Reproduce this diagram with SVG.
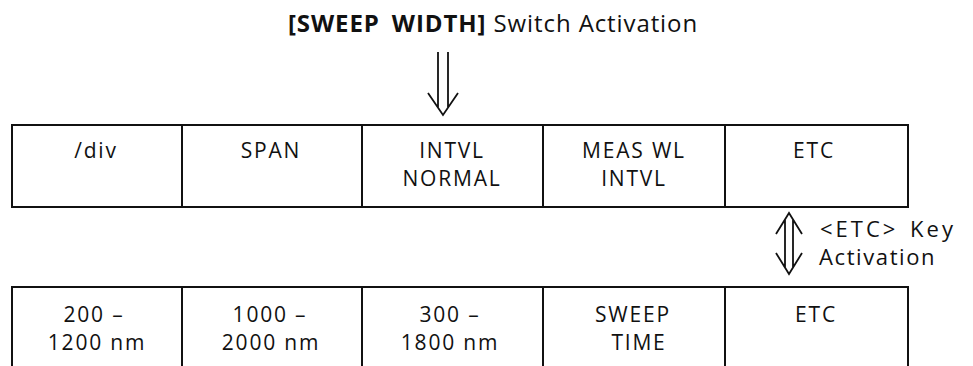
<svg xmlns="http://www.w3.org/2000/svg" width="973" height="366" viewBox="0 0 973 366">
<style>
text{font-family:"Open Sans","Noto Sans",sans-serif;fill:#111;}
.t{font-size:21px;letter-spacing:1.8px;text-anchor:middle;}
.lb{font-size:22px;letter-spacing:1.6px;}
.box{fill:none;stroke:#111;stroke-width:2;}
.ar{fill:none;stroke:#111;stroke-width:1.8;stroke-linejoin:miter;}
</style>
<rect width="973" height="366" fill="#fff"/>
<g id="title"><text x="288" y="32" style="font-size:24px;letter-spacing:0.9px"><tspan font-weight="bold" word-spacing="5">[SWEEP WIDTH]</tspan> Switch Activation</text></g>
<g id="connectors">
<path class="ar" d="M438,52 V107 M448,52 V107 M428,93 L443,115 L458,93"/>
<path class="ar" d="M785,220 V267 M793,220 V267 M776,234 L789,213 L802,234 M776,253 L789,274 L802,253"/>
</g>
<g id="label-etc"><text class="lb" x="820" y="237" style="letter-spacing:3px;word-spacing:3px">&lt;ETC&gt; Key</text><text class="lb" x="819" y="265">Activation</text></g>
<g id="row1">
<rect class="box" x="12" y="125" width="896" height="82"/>
<path class="box" d="M182,125V207M362,125V207M543,125V207M725,125V207"/>
<g id="n-div"><text class="t" x="96" y="158">/div</text></g>
<g id="n-span"><text class="t" x="271" y="158">SPAN</text></g>
<g id="n-intvl"><text class="t" x="452" y="158">INTVL</text><text class="t" x="452" y="186">NORMAL</text></g>
<g id="n-meas"><text class="t" x="634" y="158">MEAS WL</text><text class="t" x="634" y="186">INTVL</text></g>
<g id="n-etc1"><text class="t" x="814" y="158">ETC</text></g>
</g>
<g id="row2">
<rect class="box" x="12" y="287" width="896" height="90"/>
<path class="box" d="M182,287V366M362,287V366M543,287V366M725,287V366"/>
<g id="n-200"><text class="t" x="94" y="322">200 –</text><text class="t" x="97" y="350">1200 nm</text></g>
<g id="n-1000"><text class="t" x="270" y="322">1000 –</text><text class="t" x="271" y="350">2000 nm</text></g>
<g id="n-300"><text class="t" x="450" y="322">300 –</text><text class="t" x="450" y="350">1800 nm</text></g>
<g id="n-sweep"><text class="t" x="633" y="322">SWEEP</text><text class="t" x="639" y="350">TIME</text></g>
<g id="n-etc2"><text class="t" x="816" y="322">ETC</text></g>
</g>
</svg>
